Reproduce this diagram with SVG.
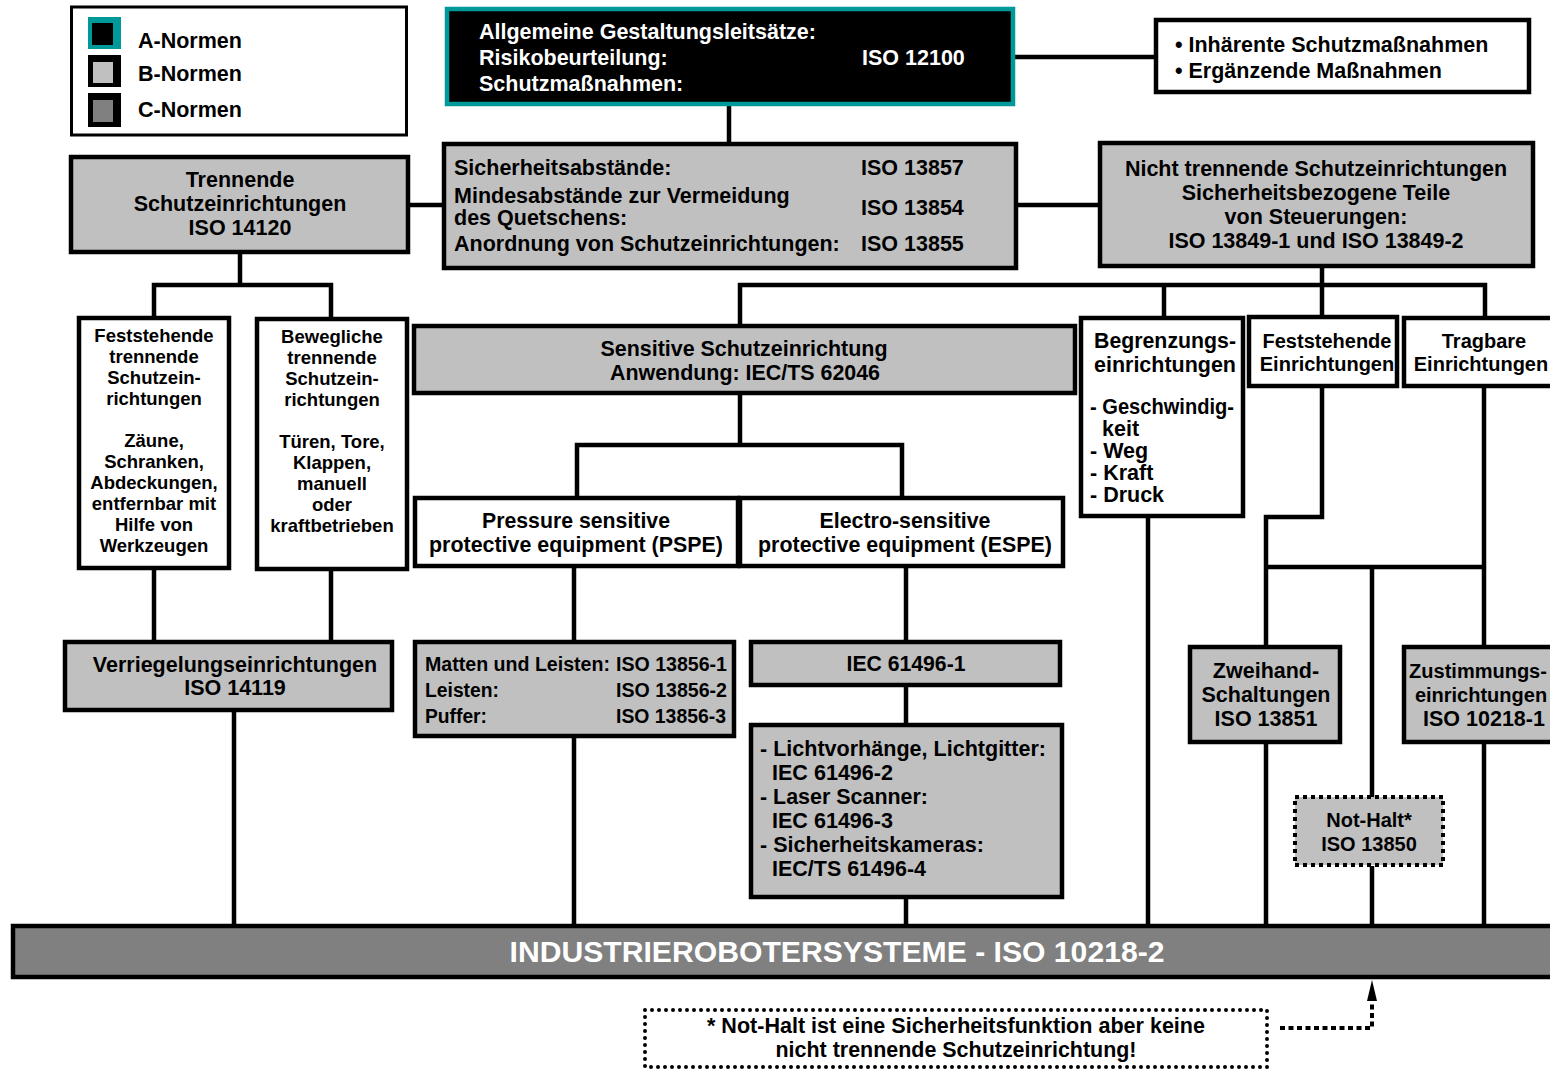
<svg xmlns="http://www.w3.org/2000/svg" width="1550" height="1070" viewBox="0 0 1550 1070">
<style>
.t{font-family:"Liberation Sans",Arial,sans-serif;font-weight:bold;font-size:21.5px;fill:#000}
.s{font-size:18.5px}
.m{font-size:20px}
.c{text-anchor:middle}
.w{fill:#fff}
.box{stroke:#000;stroke-width:4.5}
.wh{fill:#fff}
.gr{fill:#c0c0c0}
.dg{fill:#808080}
.ln{stroke:#000;stroke-width:4.5;fill:none}
</style>
<rect width="1550" height="1070" fill="#fff"/>

<g id="connectors">
<line class="ln" x1="1013" y1="57" x2="1156" y2="57"/>
<line class="ln" x1="729" y1="104" x2="729" y2="144"/>
<line class="ln" x1="408" y1="205" x2="444" y2="205"/>
<line class="ln" x1="1016" y1="205" x2="1100" y2="205"/>
<polyline class="ln" points="240,252 240,285"/>
<polyline class="ln" points="154,318 154,285 331,285 331,319"/>
<line class="ln" x1="154" y1="568" x2="154" y2="642"/>
<line class="ln" x1="331" y1="569" x2="331" y2="642"/>
<line class="ln" x1="234" y1="710" x2="234" y2="926"/>
<line class="ln" x1="1322" y1="266" x2="1322" y2="317"/>
<polyline class="ln" points="740,326 740,285 1485,285 1485,318"/>
<line class="ln" x1="1164" y1="285" x2="1164" y2="318"/>
<line class="ln" x1="740" y1="393" x2="740" y2="445"/>
<polyline class="ln" points="577,498 577,445 902,445 902,498"/>
<line class="ln" x1="574" y1="566" x2="574" y2="642"/>
<line class="ln" x1="906" y1="566" x2="906" y2="642"/>
<line class="ln" x1="574" y1="736" x2="574" y2="926"/>
<line class="ln" x1="906" y1="685" x2="906" y2="725"/>
<line class="ln" x1="906" y1="897" x2="906" y2="926"/>
<line class="ln" x1="1148" y1="515" x2="1148" y2="926"/>
<polyline class="ln" points="1322,386 1322,517 1266,517 1266,648"/>
<polyline class="ln" points="1266,567 1484,567"/>
<line class="ln" x1="1484" y1="386" x2="1484" y2="648"/>
<line class="ln" x1="1372" y1="567" x2="1372" y2="797"/>
<line class="ln" x1="1266" y1="742" x2="1266" y2="926"/>
<line class="ln" x1="1484" y1="742" x2="1484" y2="926"/>
<line class="ln" x1="1372" y1="866" x2="1372" y2="926"/>
<polyline points="1280,1028 1372,1028 1372,999" fill="none" stroke="#000" stroke-width="4" stroke-dasharray="5 3.5"/>
<polygon points="1372,980 1377,1001 1367,1001" fill="#000"/>
</g>

<g id="legend">
<rect x="71.5" y="7" width="335" height="128" fill="#fff" stroke="#000" stroke-width="3"/>
<rect x="88" y="17" width="33" height="32" fill="#009999"/>
<rect x="92" y="23" width="21" height="22" fill="#000"/>
<rect x="88" y="55" width="33" height="32" fill="#000"/>
<rect x="93" y="62" width="20" height="21" fill="#c0c0c0"/>
<rect x="88" y="93" width="33" height="34" fill="#000"/>
<rect x="93" y="100" width="20" height="22" fill="#808080"/>
<text class="t" x="138" y="48">A-Normen</text>
<text class="t" x="138" y="81">B-Normen</text>
<text class="t" x="138" y="117">C-Normen</text>
</g>

<g id="iso12100">
<rect x="447" y="9" width="566" height="95" fill="#000" stroke="#009999" stroke-width="4.5"/>
<text class="t w" x="479" y="39">Allgemeine Gestaltungsleitsätze:</text>
<text class="t w" x="479" y="65">Risikobeurteilung:</text>
<text class="t w" x="479" y="91">Schutzmaßnahmen:</text>
<text class="t w" x="862" y="65">ISO 12100</text>
</g>

<g id="massnahmen">
<rect class="box wh" x="1156" y="20" width="373" height="72"/>
<text class="t" x="1175" y="52">• Inhärente Schutzmaßnahmen</text>
<text class="t" x="1175" y="78">• Ergänzende Maßnahmen</text>
</g>

<g id="trennende">
<rect class="box gr" x="71" y="157" width="337" height="95"/>
<text class="t c" x="240" y="187">Trennende</text>
<text class="t c" x="240" y="211">Schutzeinrichtungen</text>
<text class="t c" x="240" y="235">ISO 14120</text>
</g>

<g id="abstaende">
<rect class="box gr" x="444" y="144" width="572" height="124"/>
<text class="t" x="454" y="175">Sicherheitsabstände:</text>
<text class="t" x="454" y="203">Mindesabstände zur Vermeidung</text>
<text class="t" x="454" y="225">des Quetschens:</text>
<text class="t" x="454" y="251">Anordnung von Schutzeinrichtungen:</text>
<text class="t" x="861" y="175">ISO 13857</text>
<text class="t" x="861" y="215">ISO 13854</text>
<text class="t" x="861" y="251">ISO 13855</text>
</g>

<g id="nichttrennende">
<rect class="box gr" x="1100" y="143" width="433" height="123"/>
<text class="t c" x="1316" y="176">Nicht trennende Schutzeinrichtungen</text>
<text class="t c" x="1316" y="200">Sicherheitsbezogene Teile</text>
<text class="t c" x="1316" y="224">von Steuerungen:</text>
<text class="t c" x="1316" y="248">ISO 13849-1 und ISO 13849-2</text>
</g>

<g id="feststehende-trennende">
<rect class="box wh" x="79" y="318" width="150" height="250"/>
<text class="t s c" x="154" y="342">Feststehende</text>
<text class="t s c" x="154" y="363">trennende</text>
<text class="t s c" x="154" y="384">Schutzein-</text>
<text class="t s c" x="154" y="405">richtungen</text>
<text class="t s c" x="154" y="447">Zäune,</text>
<text class="t s c" x="154" y="468">Schranken,</text>
<text class="t s c" x="154" y="489">Abdeckungen,</text>
<text class="t s c" x="154" y="510">entfernbar mit</text>
<text class="t s c" x="154" y="531">Hilfe von</text>
<text class="t s c" x="154" y="552">Werkzeugen</text>
</g>

<g id="bewegliche">
<rect class="box wh" x="257" y="319" width="150" height="250"/>
<text class="t s c" x="332" y="343">Bewegliche</text>
<text class="t s c" x="332" y="364">trennende</text>
<text class="t s c" x="332" y="385">Schutzein-</text>
<text class="t s c" x="332" y="406">richtungen</text>
<text class="t s c" x="332" y="448">Türen, Tore,</text>
<text class="t s c" x="332" y="469">Klappen,</text>
<text class="t s c" x="332" y="490">manuell</text>
<text class="t s c" x="332" y="511">oder</text>
<text class="t s c" x="332" y="532">kraftbetrieben</text>
</g>

<g id="verriegelung">
<rect class="box gr" x="65" y="642" width="327" height="68"/>
<text class="t c" x="235" y="672">Verriegelungseinrichtungen</text>
<text class="t c" x="235" y="695">ISO 14119</text>
</g>

<g id="sensitive">
<rect class="box gr" x="414" y="326" width="661" height="67"/>
<text class="t c" x="744" y="356" textLength="287" lengthAdjust="spacingAndGlyphs">Sensitive Schutzeinrichtung</text>
<text class="t c" x="745" y="380" textLength="270" lengthAdjust="spacingAndGlyphs">Anwendung: IEC/TS 62046</text>
</g>

<g id="pspe">
<rect class="box wh" x="415" y="498" width="323" height="68"/>
<text class="t c" x="576" y="528" textLength="188" lengthAdjust="spacingAndGlyphs">Pressure sensitive</text>
<text class="t c" x="576" y="552" textLength="294" lengthAdjust="spacingAndGlyphs">protective equipment (PSPE)</text>
</g>

<g id="espe">
<rect class="box wh" x="740" y="498" width="323" height="68"/>
<text class="t c" x="905" y="528" textLength="171" lengthAdjust="spacingAndGlyphs">Electro-sensitive</text>
<text class="t c" x="905" y="552" textLength="294" lengthAdjust="spacingAndGlyphs">protective equipment (ESPE)</text>
</g>

<g id="matten">
<rect class="box gr" x="415" y="642" width="319" height="94"/>
<text class="t m" x="425" y="671" textLength="185" lengthAdjust="spacingAndGlyphs">Matten und Leisten:</text>
<text class="t m" x="616" y="671" textLength="111" lengthAdjust="spacingAndGlyphs">ISO 13856-1</text>
<text class="t m" x="425" y="697" textLength="74" lengthAdjust="spacingAndGlyphs">Leisten:</text>
<text class="t m" x="616" y="697" textLength="111" lengthAdjust="spacingAndGlyphs">ISO 13856-2</text>
<text class="t m" x="425" y="723" textLength="62" lengthAdjust="spacingAndGlyphs">Puffer:</text>
<text class="t m" x="616" y="723" textLength="110" lengthAdjust="spacingAndGlyphs">ISO 13856-3</text>
</g>

<g id="iec61496-1">
<rect class="box gr" x="751" y="642" width="309" height="43"/>
<text class="t c" x="906" y="671" textLength="119" lengthAdjust="spacingAndGlyphs">IEC 61496-1</text>
</g>

<g id="iec-list">
<rect class="box gr" x="751" y="725" width="311" height="172"/>
<text class="t" x="760" y="756" textLength="286" lengthAdjust="spacingAndGlyphs">- Lichtvorhänge, Lichtgitter:</text>
<text class="t" x="772" y="780" textLength="121" lengthAdjust="spacingAndGlyphs">IEC 61496-2</text>
<text class="t" x="760" y="804" textLength="168" lengthAdjust="spacingAndGlyphs">- Laser Scanner:</text>
<text class="t" x="772" y="828" textLength="121" lengthAdjust="spacingAndGlyphs">IEC 61496-3</text>
<text class="t" x="760" y="852" textLength="224" lengthAdjust="spacingAndGlyphs">- Sicherheitskameras:</text>
<text class="t" x="772" y="876" textLength="154" lengthAdjust="spacingAndGlyphs">IEC/TS 61496-4</text>
</g>

<g id="begrenzung">
<rect class="box wh" x="1081" y="318" width="162" height="198"/>
<text class="t c" x="1165" y="348" textLength="142" lengthAdjust="spacingAndGlyphs">Begrenzungs-</text>
<text class="t c" x="1165" y="372" textLength="142" lengthAdjust="spacingAndGlyphs">einrichtungen</text>
<text class="t" x="1090" y="414" textLength="144" lengthAdjust="spacingAndGlyphs">- Geschwindig-</text>
<text class="t" x="1102" y="436">keit</text>
<text class="t" x="1090" y="458">- Weg</text>
<text class="t" x="1090" y="480">- Kraft</text>
<text class="t" x="1090" y="502">- Druck</text>
</g>

<g id="feststehende-einr">
<rect class="box wh" x="1249" y="317" width="148" height="69"/>
<text class="t m c" x="1327" y="348">Feststehende</text>
<text class="t m c" x="1327" y="371">Einrichtungen</text>
</g>

<g id="tragbare">
<rect class="box wh" x="1404" y="318" width="160" height="68"/>
<text class="t m c" x="1484" y="348">Tragbare</text>
<text class="t m c" x="1481" y="371">Einrichtungen</text>
</g>

<g id="zweihand">
<rect class="box gr" x="1190" y="647" width="150" height="95"/>
<text class="t c" x="1266" y="678">Zweihand-</text>
<text class="t c" x="1266" y="702">Schaltungen</text>
<text class="t c" x="1266" y="726">ISO 13851</text>
</g>

<g id="zustimmung">
<rect class="box gr" x="1404" y="647" width="160" height="95"/>
<text class="t m c" x="1478" y="678">Zustimmungs-</text>
<text class="t m c" x="1481" y="702">einrichtungen</text>
<text class="t c" x="1484" y="726">ISO 10218-1</text>
</g>

<g id="nothalt">
<rect x="1295" y="797" width="148" height="68" fill="#c0c0c0" stroke="#000" stroke-width="4" stroke-dasharray="4 4"/>
<text class="t m c" x="1369" y="827">Not-Halt*</text>
<text class="t m c" x="1369" y="851">ISO 13850</text>
</g>

<g id="industrieroboter">
<rect class="box dg" x="13" y="926" width="1552" height="51"/>
<text class="t w c" x="837" y="962" style="font-size:29px" textLength="655" lengthAdjust="spacingAndGlyphs">INDUSTRIEROBOTERSYSTEME - ISO 10218-2</text>
</g>

<g id="note">
<rect x="645" y="1010" width="622" height="57" fill="#fff" stroke="#000" stroke-width="4" stroke-dasharray="0 7" stroke-linecap="round"/>
<text class="t c" x="956" y="1033" textLength="498" lengthAdjust="spacingAndGlyphs">* Not-Halt ist eine Sicherheitsfunktion aber keine</text>
<text class="t c" x="956" y="1057" textLength="361" lengthAdjust="spacingAndGlyphs">nicht trennende Schutzeinrichtung!</text>
</g>
</svg>
